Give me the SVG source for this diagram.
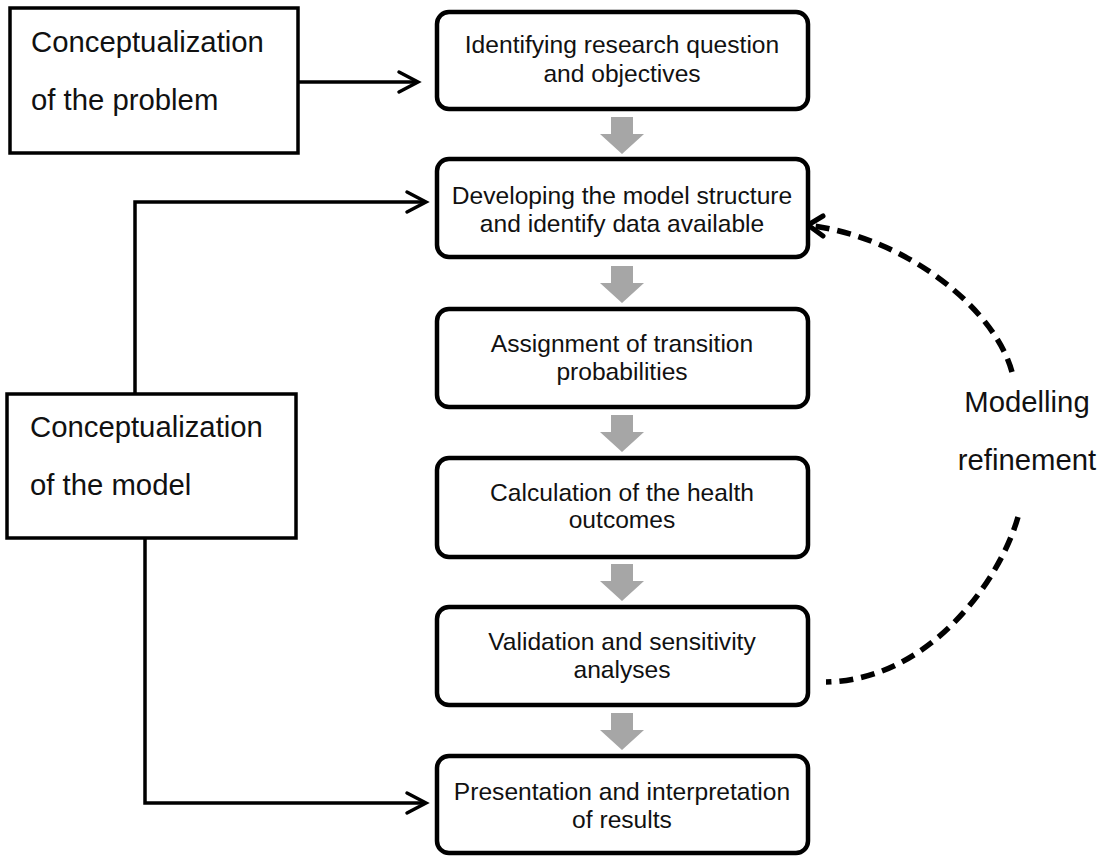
<svg xmlns="http://www.w3.org/2000/svg" width="1114" height="857" viewBox="0 0 1114 857">
<style>
.bg{fill:#fff}
.step{fill:#fff;stroke:#000;stroke-width:4.5}
.side{fill:#fff;stroke:#000;stroke-width:3.5}
.st{font-family:"Liberation Sans",Arial,sans-serif;font-size:24.6px;fill:#111;text-anchor:middle}
.lt{font-family:"Liberation Sans",Arial,sans-serif;font-size:29.3px;fill:#111}
.conn{fill:none;stroke:#000;stroke-width:3.5}
.head{fill:none;stroke:#000;stroke-width:3.5;stroke-linecap:round;stroke-linejoin:miter}
.dash{fill:none;stroke:#000;stroke-width:5.5;stroke-dasharray:14 8}
.gray{fill:#a6a6a6}
</style>
<rect class="bg" x="0" y="0" width="1114" height="857"/>

<g id="connectors">
  <path class="conn" d="M298 82 H416"/>
  <path class="head" d="M399 72 L418 82 L399 92"/>
  <path class="conn" d="M135 394 V202 H424"/>
  <path class="head" d="M407 192 L426 202 L407 212"/>
  <path class="conn" d="M145 538 V803 H424"/>
  <path class="head" d="M407 793 L426 803 L407 813"/>
  <g id="flow-arrows">
    <polygon class="gray" points="611,117 633,117 633,134 644,134 622,154 600,134 611,134"/>
    <polygon class="gray" points="611,266 633,266 633,283 644,283 622,303 600,283 611,283"/>
    <polygon class="gray" points="611,415 633,415 633,432 644,432 622,452 600,432 611,432"/>
    <polygon class="gray" points="611,564 633,564 633,581 644,581 622,601 600,581 611,581"/>
    <polygon class="gray" points="611,713 633,713 633,730 644,730 622,750 600,730 611,730"/>
  </g>
  <g id="refinement-loop">
    <path class="dash" d="M1012 372 C995 310 910 240 814 226"/>
    <path class="head" style="stroke-width:5" d="M823 216 L808 225 L823 236"/>
    <path class="dash" d="M1018 517 C1000 580 930 680 826 682"/>
  </g>
</g>

<g id="node-problem">
  <rect class="side" x="10" y="8" width="288" height="145"/>
  <text class="lt" x="31" y="52">Conceptualization</text>
  <text class="lt" x="31" y="110">of the problem</text>
</g>

<g id="node-model">
  <rect class="side" x="7" y="394" width="289" height="144"/>
  <text class="lt" x="30" y="437">Conceptualization</text>
  <text class="lt" x="30" y="495">of the model</text>
</g>

<g id="node-label-refinement">
  <text class="lt" x="1027" y="412" text-anchor="middle">Modelling</text>
  <text class="lt" x="1027" y="470" text-anchor="middle">refinement</text>
</g>

<g id="node-1">
  <rect class="step" x="437" y="12" width="371" height="97" rx="12"/>
  <text class="st" x="622" y="53">Identifying research question</text>
  <text class="st" x="622" y="82">and objectives</text>
</g>
<g id="node-2">
  <rect class="step" x="437" y="159" width="371" height="98" rx="12"/>
  <text class="st" x="622" y="204">Developing the model structure</text>
  <text class="st" x="622" y="232">and identify data available</text>
</g>
<g id="node-3">
  <rect class="step" x="437" y="309" width="371" height="98" rx="12"/>
  <text class="st" x="622" y="352">Assignment of transition</text>
  <text class="st" x="622" y="380">probabilities</text>
</g>
<g id="node-4">
  <rect class="step" x="437" y="458" width="371" height="99" rx="12"/>
  <text class="st" x="622" y="501">Calculation of the health</text>
  <text class="st" x="622" y="528">outcomes</text>
</g>
<g id="node-5">
  <rect class="step" x="437" y="607" width="371" height="98" rx="12"/>
  <text class="st" x="622" y="650">Validation and sensitivity</text>
  <text class="st" x="622" y="678">analyses</text>
</g>
<g id="node-6">
  <rect class="step" x="437" y="756" width="371" height="97" rx="12"/>
  <text class="st" x="622" y="800">Presentation and interpretation</text>
  <text class="st" x="622" y="828">of results</text>
</g>
</svg>
